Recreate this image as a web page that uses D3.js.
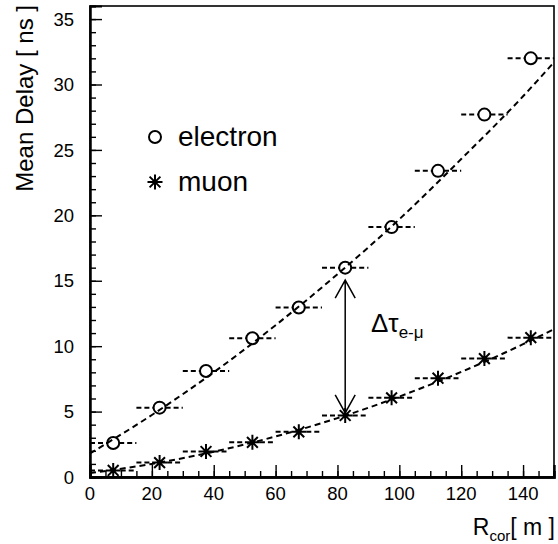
<!DOCTYPE html>
<html>
<head>
<meta charset="utf-8">
<script src="https://cdn.jsdelivr.net/npm/d3@7/dist/d3.min.js"></script>
<style>
  html, body { margin: 0; padding: 0; background: #fff; }
  svg { display: block; font-family: "Liberation Sans", Arial, Helvetica, sans-serif; }
</style>
</head>
<body>
<svg id="chart" width="558" height="544"></svg>
<script>
// Bin centres of the core-distance bins and their half width [m]
const binCenters = [7.5, 22.5, 37.5, 52.5, 67.5, 82.5, 97.5, 112.5, 127.5, 142.5];
const binHalfWidth = 7.5;

// Mean arrival delay per bin [ns]
const electronDelay = [2.6, 5.3, 8.1, 10.6, 12.95, 16.0, 19.1, 23.4, 27.7, 32.0];
const muonDelay = [0.5, 1.1, 1.95, 2.65, 3.45, 4.7, 6.05, 7.55, 9.05, 10.65];

// Fitted curves, sampled along R_cor
const fitX = [0, 20, 40, 60, 80, 100, 120, 140, 150];
const electronFit = [1.8, 4.74, 8.0, 11.6, 15.5, 19.7, 24.3, 29.1, 31.7];
const muonFit = [0.3, 1.0, 1.93, 3.1, 4.5, 6.15, 8.03, 10.15, 11.3];

// Delay difference marker between the two components
const arrowX = 82.5;
const arrowTop = 15.05;
const arrowBottom = 4.9;

// Axis ticks
const xMajorTicks = [0, 20, 40, 60, 80, 100, 120, 140];
const xMinorTicks = d3.range(0, 151, 5);
const yMajorTicks = [0, 5, 10, 15, 20, 25, 30, 35];
const yMinorTicks = d3.range(0, 36.01, 1);

const legendItems = [
  { label: "electron", marker: "circle" },
  { label: "muon", marker: "star" }
];

const svg = d3.select("#chart");
const frame = { left: 90, right: 554, top: 6, bottom: 477 };

const x = d3.scaleLinear().domain([0, 150]).range([frame.left, frame.right]);
const y = d3.scaleLinear().domain([0, 36]).range([frame.bottom, frame.top]);

// Frame
svg.append("rect")
  .attr("x", frame.left).attr("y", frame.top)
  .attr("width", frame.right - frame.left).attr("height", frame.bottom - frame.top)
  .attr("fill", "none").attr("stroke", "#000").attr("stroke-width", 1.6);

// Axes with inward ticks
const xAxisMinor = d3.axisTop(x).tickValues(xMinorTicks).tickSize(6).tickFormat("");
const xAxisMajor = d3.axisTop(x).tickValues(xMajorTicks).tickSize(12).tickFormat("");
const yAxisMinor = d3.axisRight(y).tickValues(yMinorTicks).tickSize(6).tickFormat("");
const yAxisMajor = d3.axisRight(y).tickValues(yMajorTicks).tickSize(12).tickFormat("");

[xAxisMinor, xAxisMajor].forEach(axis => {
  const g = svg.append("g").attr("transform", `translate(0,${frame.bottom})`).call(axis);
  g.select(".domain").attr("stroke-width", 2.4);
  g.selectAll(".tick line").attr("stroke-width", 1.4);
});
[yAxisMinor, yAxisMajor].forEach(axis => {
  const g = svg.append("g").attr("transform", `translate(${frame.left},0)`).call(axis);
  g.select(".domain").attr("stroke-width", 2);
  g.selectAll(".tick line").attr("stroke-width", 1.4);
});

// Tick labels
svg.append("g").selectAll("text").data(xMajorTicks).join("text")
  .attr("x", d => x(d)).attr("y", 500)
  .attr("text-anchor", "middle").attr("font-size", 18.5)
  .text(d => d);
svg.append("g").selectAll("text").data(yMajorTicks).join("text")
  .attr("x", 74).attr("y", d => y(d) + 6.6)
  .attr("text-anchor", "end").attr("font-size", 18.5)
  .text(d => d);

// Axis titles
svg.append("text")
  .attr("transform", "translate(33,5) rotate(-90)")
  .attr("text-anchor", "end").attr("font-size", 24)
  .text("Mean Delay [ ns ]");

const xt = svg.append("text")
  .attr("x", 555).attr("y", 535)
  .attr("text-anchor", "end").attr("font-size", 23);
xt.append("tspan").text("R");
xt.append("tspan").attr("font-size", 15).attr("dy", 6).text("cor");
xt.append("tspan").attr("dy", -6).text("[ m ]");

// Fitted curves
const fitLine = d3.line().x(d => x(d[0])).y(d => y(d[1])).curve(d3.curveMonotoneX);
[electronFit, muonFit].forEach(vals => {
  svg.append("path")
    .datum(fitX.map((xv, i) => [xv, vals[i]]))
    .attr("d", fitLine)
    .attr("fill", "none").attr("stroke", "#000")
    .attr("stroke-width", 2).attr("stroke-dasharray", "6,4");
});

// Horizontal bin-width bars
const circleR = 6;
const starR = 7.5;
function binBars(values, gap) {
  const g = svg.append("g")
    .attr("stroke", "#000").attr("stroke-width", 2).attr("stroke-dasharray", "5,3");
  values.forEach((v, i) => {
    const cx = x(binCenters[i]), cy = y(v);
    g.append("line")
      .attr("x1", x(binCenters[i] - binHalfWidth)).attr("x2", cx - gap)
      .attr("y1", cy).attr("y2", cy);
    g.append("line")
      .attr("x1", cx + gap).attr("x2", x(binCenters[i] + binHalfWidth))
      .attr("y1", cy).attr("y2", cy);
  });
}
binBars(electronDelay, circleR);
binBars(muonDelay, starR);

// Markers
function drawCircle(g, cx, cy) {
  g.append("circle").attr("cx", cx).attr("cy", cy).attr("r", circleR)
    .attr("fill", "none").attr("stroke", "#000").attr("stroke-width", 2);
}
function drawStar(g, cx, cy) {
  const r = starR, d = starR * 0.72;
  const p = `M${cx - r},${cy}H${cx + r}M${cx},${cy - r}V${cy + r}` +
            `M${cx - d},${cy - d}L${cx + d},${cy + d}M${cx - d},${cy + d}L${cx + d},${cy - d}`;
  g.append("path").attr("d", p).attr("stroke", "#000").attr("stroke-width", 2).attr("fill", "none");
}
const mg = svg.append("g");
electronDelay.forEach((v, i) => drawCircle(mg, x(binCenters[i]), y(v)));
muonDelay.forEach((v, i) => drawStar(mg, x(binCenters[i]), y(v)));

// Delay difference arrow
const arrowPx = x(arrowX), ay1 = y(arrowTop), ay2 = y(arrowBottom);
const headL = 18, headW = 10;
svg.append("path")
  .attr("d", `M${arrowPx},${ay1}V${ay2}` +
             `M${arrowPx - headW},${ay1 + headL}L${arrowPx},${ay1}L${arrowPx + headW},${ay1 + headL}` +
             `M${arrowPx - headW},${ay2 - headL}L${arrowPx},${ay2}L${arrowPx + headW},${ay2 - headL}`)
  .attr("fill", "none").attr("stroke", "#000").attr("stroke-width", 1.5);

const dl = svg.append("text").attr("x", 371).attr("y", 332).attr("font-size", 26);
dl.append("tspan").text("\u0394\u03c4");
dl.append("tspan").attr("font-size", 17).attr("dy", 6).text("e-\u03bc");

// Legend
legendItems.forEach((item, i) => {
  const cy = 137 + i * 45;
  if (item.marker === "circle") drawCircle(svg, 155, cy);
  else drawStar(svg, 155, cy);
  svg.append("text").attr("x", 178).attr("y", cy + 9)
    .attr("font-size", 28).text(item.label);
});
</script>
</body>
</html>
